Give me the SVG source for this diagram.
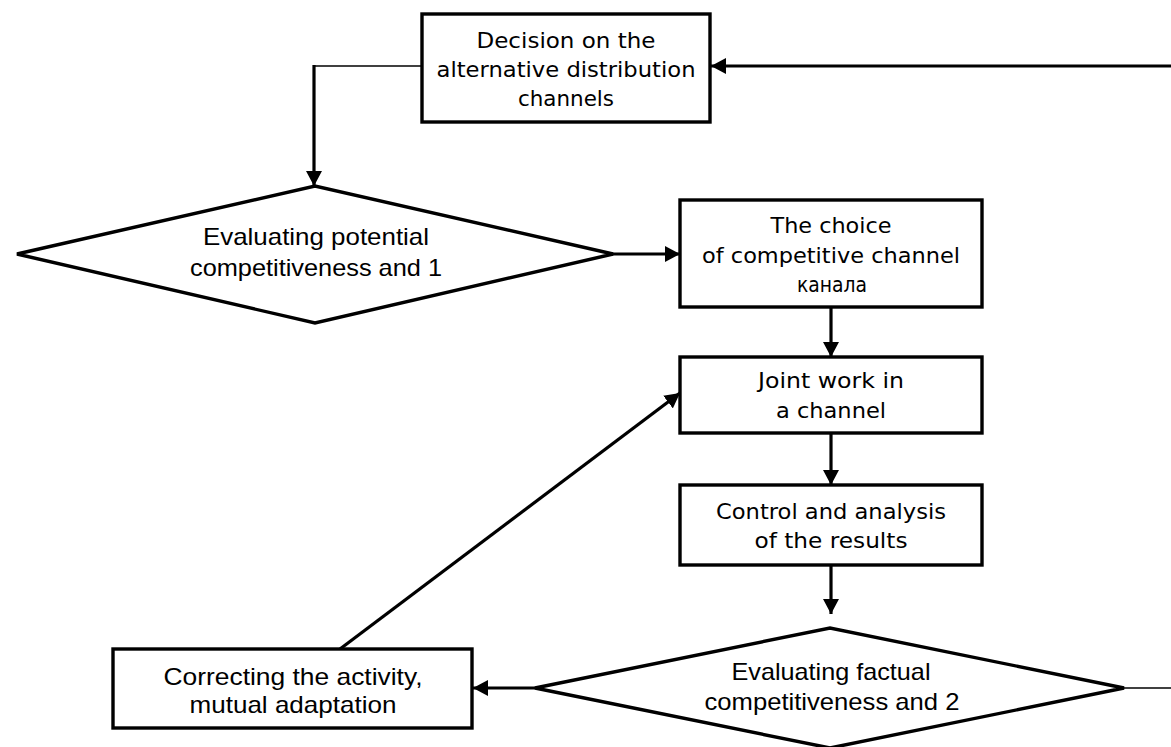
<svg xmlns="http://www.w3.org/2000/svg" width="1171" height="747" viewBox="0 0 1171 747">
<style>
.box{fill:#fff;stroke:#000;stroke-width:3.4}
.dia{fill:#fff;stroke:#000;stroke-width:3.4;stroke-linejoin:miter}
.con{fill:none;stroke:#000;stroke-width:3.2}
.thin{fill:none;stroke:#000;stroke-width:1.6}
.t1{font-family:"DejaVu Sans","Liberation Sans",sans-serif;font-size:21.5px;fill:#000;text-anchor:middle}
.t2{font-family:"Liberation Sans","DejaVu Sans",sans-serif;font-size:24px;fill:#000;text-anchor:middle}
</style>
<defs>
<marker id="ah" viewBox="0 0 15 16" refX="15" refY="8" markerWidth="15" markerHeight="16" markerUnits="userSpaceOnUse" orient="auto">
<path d="M0,0 L15,8 L0,16 z" fill="#000"/>
</marker>
</defs>
<rect width="1171" height="747" fill="#fff"/>
<g id="connectors">
<path class="thin" d="M422,66 H314"/>
<path class="con" d="M314,65 V186" marker-end="url(#ah)"/>
<path class="con" d="M1171,66 H711" marker-end="url(#ah)"/>
<path class="con" d="M612,254 H680" marker-end="url(#ah)"/>
<path class="con" d="M831,307 V357" marker-end="url(#ah)"/>
<path class="con" d="M831,433 V485" marker-end="url(#ah)"/>
<path class="con" d="M831,565 V614" marker-end="url(#ah)"/>
<path class="con" d="M535,688 H473" marker-end="url(#ah)"/>
<path class="thin" d="M1124,688 H1171"/>
<path class="con" d="M340,649 L680,393" marker-end="url(#ah)"/>
</g>
<g id="decision">
<rect class="box" x="422" y="14" width="288" height="108"/>
<text class="t1" x="566" y="48" textLength="179" lengthAdjust="spacingAndGlyphs">Decision on the</text>
<text class="t1" x="566" y="77" textLength="259" lengthAdjust="spacingAndGlyphs">alternative distribution</text>
<text class="t1" x="566" y="106" textLength="96" lengthAdjust="spacingAndGlyphs">channels</text>
</g>
<g id="eval1">
<polygon class="dia" points="17,254 315,186 613,254 315,323"/>
<text class="t2" x="316" y="245" textLength="226" lengthAdjust="spacingAndGlyphs">Evaluating potential</text>
<text class="t2" x="316" y="276" textLength="252" lengthAdjust="spacingAndGlyphs">competitiveness and 1</text>
</g>
<g id="choice">
<rect class="box" x="680" y="200" width="302" height="107"/>
<text class="t1" x="831" y="233" textLength="121" lengthAdjust="spacingAndGlyphs">The choice</text>
<text class="t1" x="831" y="263" textLength="258" lengthAdjust="spacingAndGlyphs">of competitive channel</text>
<text class="t1" x="832" y="292" textLength="70" lengthAdjust="spacingAndGlyphs">канала</text>
</g>
<g id="joint">
<rect class="box" x="680" y="357" width="302" height="76"/>
<text class="t1" x="831" y="388" textLength="146" lengthAdjust="spacingAndGlyphs">Joint work in</text>
<text class="t1" x="831" y="418" textLength="110" lengthAdjust="spacingAndGlyphs">a channel</text>
</g>
<g id="control">
<rect class="box" x="680" y="485" width="302" height="80"/>
<text class="t1" x="831" y="519" textLength="230" lengthAdjust="spacingAndGlyphs">Control and analysis</text>
<text class="t1" x="831" y="548" textLength="153" lengthAdjust="spacingAndGlyphs">of the results</text>
</g>
<g id="eval2">
<polygon class="dia" points="535,688 830,628 1124,688 830,748"/>
<text class="t2" x="831" y="680" textLength="199" lengthAdjust="spacingAndGlyphs">Evaluating factual</text>
<text class="t2" x="832" y="710" textLength="255" lengthAdjust="spacingAndGlyphs">competitiveness and 2</text>
</g>
<g id="correcting">
<rect class="box" x="113" y="649" width="359" height="79"/>
<text class="t2" x="293" y="685" textLength="259" lengthAdjust="spacingAndGlyphs">Correcting the activity,</text>
<text class="t2" x="293" y="713" textLength="207" lengthAdjust="spacingAndGlyphs">mutual adaptation</text>
</g>
</svg>
